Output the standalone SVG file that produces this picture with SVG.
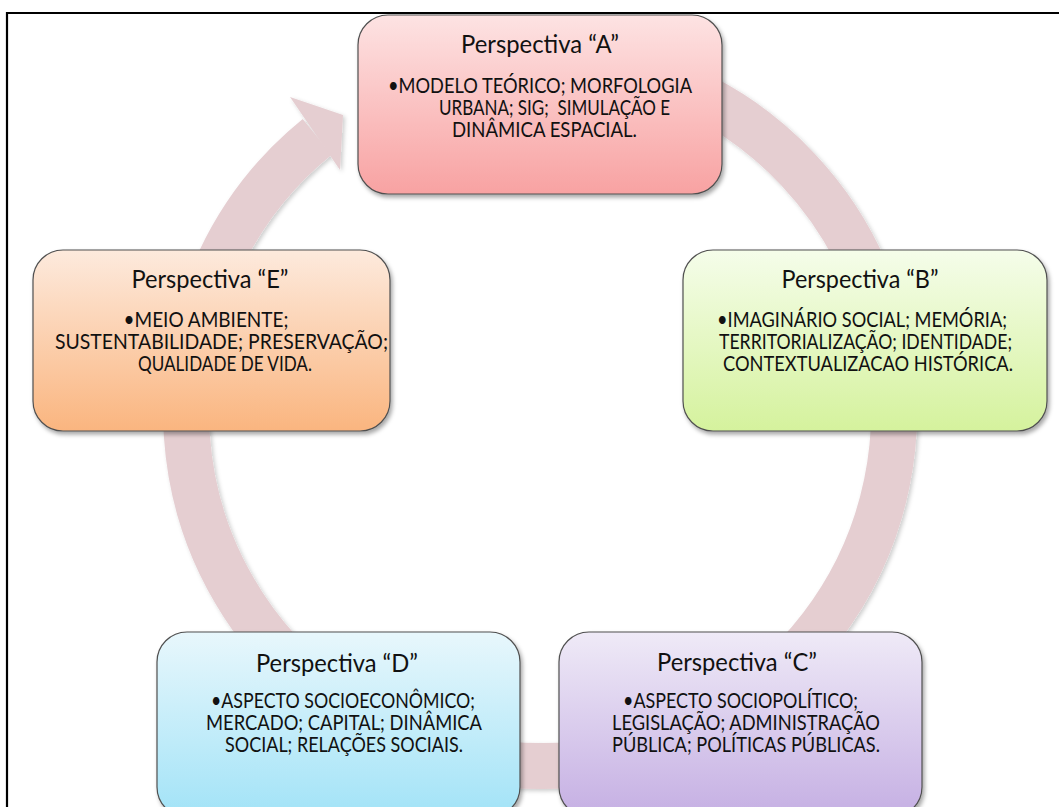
<svg xmlns="http://www.w3.org/2000/svg" width="1059" height="807" viewBox="0 0 1059 807">
<style>
  .node rect { stroke: #505050; stroke-width: 1.2; filter: url(#shadow); }
  .title { font-family: Lato, "Liberation Sans", sans-serif; font-size: 25.5px; fill: #111; text-anchor: middle; }
  .body { font-family: Lato, "Liberation Sans", sans-serif; font-size: 20.5px; fill: #111; text-anchor: middle; white-space: pre; }
  .ring { fill: none; stroke: #e5ced1; stroke-width: 46; }
  .head { fill: #e5ced1; }
  .frame { stroke: #000; stroke-width: 2.2; fill: none; }
</style>
<defs>
  <filter id="shadow" x="-10%" y="-10%" width="125%" height="130%">
    <feDropShadow dx="2" dy="3" stdDeviation="2.2" flood-color="#000" flood-opacity="0.35"/>
  </filter>
  <filter id="rshadow" x="-10%" y="-10%" width="125%" height="125%">
    <feDropShadow dx="2" dy="2" stdDeviation="2" flood-color="#000" flood-opacity="0.2"/>
  </filter>
  <linearGradient id="gA" x1="0" y1="0" x2="0" y2="1"><stop offset="0" stop-color="#fde3e3"/><stop offset="1" stop-color="#f8a2a2"/></linearGradient>
  <linearGradient id="gB" x1="0" y1="0" x2="0" y2="1"><stop offset="0" stop-color="#f5fdea"/><stop offset="1" stop-color="#d5f29d"/></linearGradient>
  <linearGradient id="gC" x1="0" y1="0" x2="0" y2="1"><stop offset="0" stop-color="#efeaf7"/><stop offset="1" stop-color="#c5afe3"/></linearGradient>
  <linearGradient id="gD" x1="0" y1="0" x2="0" y2="1"><stop offset="0" stop-color="#e8f7fc"/><stop offset="1" stop-color="#a2e3f7"/></linearGradient>
  <linearGradient id="gE" x1="0" y1="0" x2="0" y2="1"><stop offset="0" stop-color="#fdeadd"/><stop offset="1" stop-color="#fab57f"/></linearGradient>
</defs>
<rect x="0" y="0" width="1059" height="807" fill="#fff"/>
<g id="frame">
  <path class="frame" d="M7 807 V13 H1059"/>
</g>
<g id="connectors" filter="url(#rshadow)">
  <path class="ring" d="M490.7 61.4 A354 354 0 1 1 317.2 136.9"/>
  <polygon class="head" points="290,97 343,115 340,170"/>
</g>
<g id="nodeA" class="node">
  <rect x="358" y="15" width="364" height="179" rx="30" fill="url(#gA)"/>
  <text class="title" x="540" y="53" textLength="158" lengthAdjust="spacingAndGlyphs">Perspectiva “A”</text>
  <text class="body" x="540" y="93" textLength="304" lengthAdjust="spacingAndGlyphs">•MODELO TEÓRICO; MORFOLOGIA</text>
  <text class="body" x="554.5" y="115" textLength="231" lengthAdjust="spacingAndGlyphs">URBANA; SIG;  SIMULAÇÃO E</text>
  <text class="body" x="544.5" y="137" textLength="185" lengthAdjust="spacingAndGlyphs">DINÂMICA ESPACIAL.</text>
</g>
<g id="nodeB" class="node">
  <rect x="683" y="250" width="364" height="181" rx="30" fill="url(#gB)"/>
  <text class="title" x="860" y="288" textLength="157" lengthAdjust="spacingAndGlyphs">Perspectiva “B”</text>
  <text class="body" x="862" y="327" textLength="290" lengthAdjust="spacingAndGlyphs">•IMAGINÁRIO SOCIAL; MEMÓRIA;</text>
  <text class="body" x="865.5" y="349" textLength="293" lengthAdjust="spacingAndGlyphs">TERRITORIALIZAÇÃO; IDENTIDADE;</text>
  <text class="body" x="868" y="371" textLength="290" lengthAdjust="spacingAndGlyphs">CONTEXTUALIZACAO HISTÓRICA.</text>
</g>
<g id="nodeC" class="node">
  <rect x="559" y="632" width="363" height="185" rx="30" fill="url(#gC)"/>
  <text class="title" x="737" y="671" textLength="160" lengthAdjust="spacingAndGlyphs">Perspectiva “C”</text>
  <text class="body" x="740.5" y="708" textLength="235" lengthAdjust="spacingAndGlyphs">•ASPECTO SOCIOPOLÍTICO;</text>
  <text class="body" x="746" y="730" textLength="268" lengthAdjust="spacingAndGlyphs">LEGISLAÇÃO; ADMINISTRAÇÃO</text>
  <text class="body" x="746" y="752" textLength="268" lengthAdjust="spacingAndGlyphs">PÚBLICA; POLÍTICAS PÚBLICAS.</text>
</g>
<g id="nodeD" class="node">
  <rect x="157" y="632" width="363" height="185" rx="30" fill="url(#gD)"/>
  <text class="title" x="337" y="672" textLength="162" lengthAdjust="spacingAndGlyphs">Perspectiva “D”</text>
  <text class="body" x="343" y="708" textLength="264" lengthAdjust="spacingAndGlyphs">•ASPECTO SOCIOECONÔMICO;</text>
  <text class="body" x="344" y="730" textLength="276" lengthAdjust="spacingAndGlyphs">MERCADO; CAPITAL; DINÂMICA</text>
  <text class="body" x="344" y="752" textLength="238" lengthAdjust="spacingAndGlyphs">SOCIAL; RELAÇÕES SOCIAIS.</text>
</g>
<g id="nodeE" class="node">
  <rect x="33" y="250" width="357" height="181" rx="30" fill="url(#gE)"/>
  <text class="title" x="210" y="288" textLength="157" lengthAdjust="spacingAndGlyphs">Perspectiva “E”</text>
  <text class="body" x="206" y="327" textLength="165" lengthAdjust="spacingAndGlyphs">•MEIO AMBIENTE;</text>
  <text class="body" x="221.5" y="349" textLength="333" lengthAdjust="spacingAndGlyphs">SUSTENTABILIDADE; PRESERVAÇÃO;</text>
  <text class="body" x="225" y="371" textLength="174" lengthAdjust="spacingAndGlyphs">QUALIDADE DE VIDA.</text>
</g>
</svg>
